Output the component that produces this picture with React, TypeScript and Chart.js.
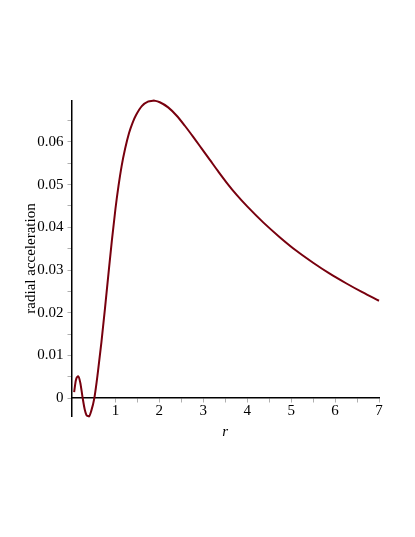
import React, { useEffect, useRef } from "react";
import { Chart, registerables } from "chart.js";

Chart.register(...registerables);

// r values (x)
const rValues = [
  0.06, 0.1, 0.155, 0.2, 0.25, 0.3, 0.35, 0.4, 0.45, 0.52, 0.6, 0.68, 0.76, 0.84,
  0.92, 1.0, 1.07, 1.14, 1.22, 1.31, 1.39, 1.47, 1.6, 1.75, 1.88, 2.01, 2.2, 2.39,
  2.58, 2.77, 2.96, 3.15, 3.34, 3.53, 3.76, 4.0, 4.37, 4.74, 5.12, 5.5, 5.87, 6.25,
  6.62, 7.0,
];

// radial acceleration values (y)
const accelValues = [
  0.0014, 0.0042, 0.0051, 0.0036, 0.0003, -0.0026, -0.0041, -0.0043, -0.003, 0.0,
  0.006, 0.013, 0.0208, 0.029, 0.037, 0.0443, 0.0497, 0.0543, 0.0584, 0.0621,
  0.0645, 0.0663, 0.0684, 0.0695, 0.0697, 0.0693, 0.0681, 0.0662, 0.0638, 0.0612,
  0.0585, 0.0558, 0.0531, 0.0505, 0.0476, 0.0449, 0.0411, 0.0377, 0.0345, 0.0317,
  0.0292, 0.0269, 0.0248, 0.0228,
];

const xMin = 0;
const xMax = 7;
const yMin = -0.0042;
const yMax = 0.0696;
const xTitle = "r";
const yTitle = "radial acceleration";

const FONT = "'Liberation Serif', 'Times New Roman', serif";

export default function App() {
  const ref = useRef<HTMLCanvasElement>(null);

  useEffect(() => {
    if (!ref.current) return;
    const points = rValues.map((r, i) => ({ x: r, y: accelValues[i] }));
    const chart = new Chart(ref.current, {
      type: "scatter",
      data: {
        datasets: [
          {
            data: points,
            showLine: true,
            borderColor: "#78000E",
            backgroundColor: "#78000E",
            borderWidth: 2,
            pointRadius: 0,
            cubicInterpolationMode: "monotone",
            fill: false,
            clip: false,
          } as any,
        ],
      },
      options: {
        responsive: false,
        animation: false,
        devicePixelRatio: 1,
        layout: { padding: { left: 22.5, top: 101, right: 36, bottom: 121 } },
        plugins: {
          legend: { display: false },
          tooltip: { enabled: false },
        },
        scales: {
          x: {
            type: "linear",
            min: xMin,
            max: xMax,
            position: { y: 0 } as any,
            afterFit: (scale: any) => {
              scale.height = 43.4;
            },
            grid: {
              display: true,
              drawOnChartArea: false,
              drawTicks: true,
              tickLength: 4,
              color: "#b0b0b0",
            },
            border: { display: true, color: "#000000", width: 1.5 },
            ticks: {
              stepSize: 0.5,
              autoSkip: false,
              maxRotation: 0,
              padding: 0,
              color: "#000000",
              font: { family: FONT, size: 15 },
              callback: (v: any) => {
                const n = Number(v);
                return Number.isInteger(n) && n !== 0 ? String(n) : "";
              },
            },
            title: {
              display: true,
              text: xTitle,
              color: "#000000",
              padding: 0,
              font: { family: FONT, size: 15, style: "italic" },
            },
          },
          y: {
            type: "linear",
            min: yMin,
            max: yMax,
            position: "left",
            afterFit: (scale: any) => {
              scale.width = 49;
            },
            grid: {
              display: true,
              drawOnChartArea: false,
              drawTicks: true,
              tickLength: 4,
              color: "#b0b0b0",
            },
            border: { display: true, color: "#000000", width: 1.5 },
            ticks: {
              stepSize: 0.005,
              includeBounds: false,
              autoSkip: false,
              padding: 4,
              color: "#000000",
              font: { family: FONT, size: 15 },
              callback: (v: any) => {
                const k = Math.round(Number(v) * 200);
                if (k % 2 !== 0) return "";
                if (k === 0) return "0";
                return (k / 200).toFixed(2);
              },
            },
            title: {
              display: true,
              text: yTitle,
              color: "#000000",
              padding: 0,
              font: { family: FONT, size: 15 },
            },
          },
        },
      },
    });
    return () => chart.destroy();
  }, []);

  return (
    <canvas
      ref={ref}
      width={415}
      height={537}
      style={{ position: "fixed", left: 0, top: 0, width: 415, height: 537 }}
    />
  );
}
